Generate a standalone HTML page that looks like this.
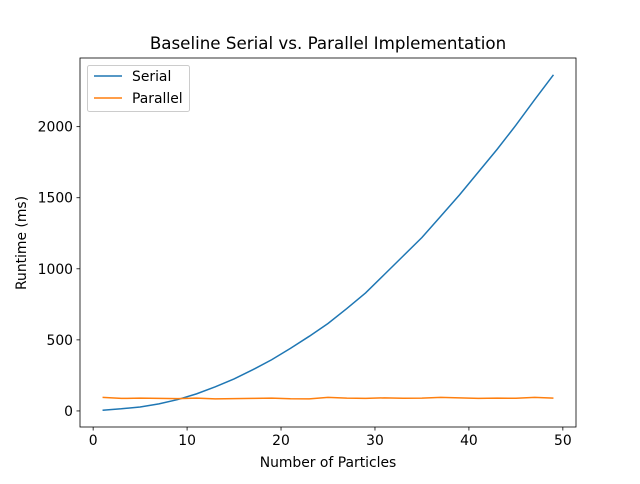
<!DOCTYPE html>
<html><head><meta charset="utf-8"><style>
body{margin:0;background:#fff;font-family:"DejaVu Sans","Liberation Sans",sans-serif;}
svg text{font-family:"DejaVu Sans","Liberation Sans",sans-serif;}
</style></head><body>
<svg id="chart" width="640" height="480" xmlns="http://www.w3.org/2000/svg">
<rect width="640" height="480" fill="#fff"/>
<text x="328" y="49" font-size="16.7" text-anchor="middle">Baseline Serial vs. Parallel Implementation</text>
<g id="plot"></g>
<text x="328" y="467" font-size="13.9" text-anchor="middle">Number of Particles</text>
<text transform="translate(26,243) rotate(-90)" font-size="13.9" text-anchor="middle">Runtime (ms)</text>
</svg>
<script>
const xs=[1,3,5,7,9,11,13,15,17,19,21,23,25,27,29,31,33,35,37,39,41,43,45,47,49];
const serial=[5,15,28,50,80,120,170,225,290,360,440,525,615,720,830,960,1090,1220,1370,1520,1680,1840,2010,2190,2365];
const parallel=[95,88,90,88,87,90,85,87,88,90,86,85,95,90,88,92,89,90,95,92,88,90,89,95,90];
const xTicks=[0,10,20,30,40,50];
const yTicks=[0,500,1000,1500,2000];
const L=80,R=576,T=58,B=427;
const xMin=-1.4,xMax=51.4,yMin=-113,yMax=2483;
const sx=v=>L+(v-xMin)/(xMax-xMin)*(R-L);
const sy=v=>B-(v-yMin)/(yMax-yMin)*(B-T);
const NS="http://www.w3.org/2000/svg";
const g=document.getElementById('plot');
function mk(t,a){const e=document.createElementNS(NS,t);for(const k in a)e.setAttribute(k,a[k]);g.appendChild(e);return e;}
xTicks.forEach(v=>{
 const t=mk('line',{x1:sx(v),x2:sx(v),y1:B,y2:B+3.5,stroke:'#000','stroke-width':0.8});
 
 
 const l=mk('text',{x:sx(v),y:B+18,'font-size':13.9,'text-anchor':'middle'});l.textContent=v;
 
 
});
yTicks.forEach(v=>{
 const t=mk('line',{x1:L-3.5,x2:L,y1:sy(v),y2:sy(v),stroke:'#000','stroke-width':0.8});
 
 
 const l=mk('text',{x:L-7,y:sy(v)+5,'font-size':13.9,'text-anchor':'end'});l.textContent=v;
 
 
});
function line(ys,c,n){
 const p=mk('polyline',{points:xs.map((x,i)=>sx(x)+','+sy(ys[i])).join(' '),fill:'none',stroke:c,'stroke-width':1.5});
 
 
}
line(serial,'#1f77b4','serial-line');
line(parallel,'#ff7f0e','parallel-line');
const fr=mk('rect',{x:L,y:T,width:R-L,height:B-T,fill:'none',stroke:'#000','stroke-width':0.8});


const lg=mk('rect',{x:87.5,y:65.5,width:102,height:46,rx:2,fill:'#fff','fill-opacity':0.8,stroke:'#ccc'});


[['Serial','#1f77b4',76],['Parallel','#ff7f0e',98]].forEach(([n,c,y])=>{
 const s=mk('line',{x1:94,x2:122,y1:y,y2:y,stroke:c,'stroke-width':1.5});
 
 
 const t=mk('text',{x:132,y:y+5,'font-size':13.9});t.textContent=n;
 
 
});
</script>
</body></html>
